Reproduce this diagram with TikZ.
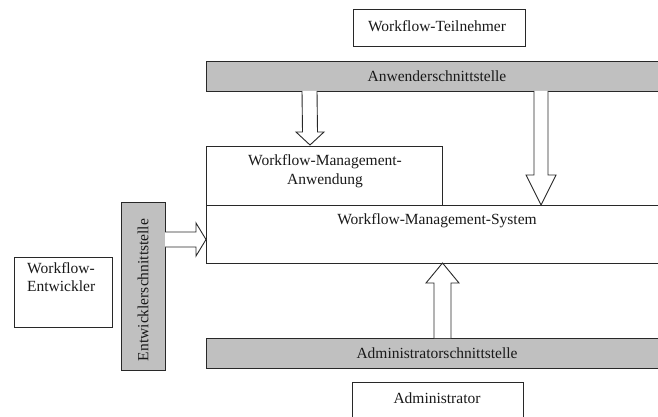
\documentclass[tikz,border=0pt]{standalone}
\usepackage{fontspec}
\setmainfont{Liberation Serif}
\usetikzlibrary{calc}
\definecolor{barfill}{RGB}{192,192,192}
\definecolor{edge}{RGB}{40,40,40}
\begin{document}
\begin{tikzpicture}[x=1pt,y=-1pt,
  every node/.style={font=\fontsize{15.5}{18.5}\selectfont},
  frame/.style={draw=edge,line width=1.1pt,inner sep=0pt,anchor=north west},
  bar/.style={frame,fill=barfill},
  label/.style={inner sep=0pt,text=black!90},
  blockarrow/.style={draw=edge,fill=white,line width=0.9pt,line join=miter}]
\useasboundingbox (0,0) rectangle (658,417);
\clip (0,0) rectangle (658,417);
\fill[white] (0,0) rectangle (658,417);

% participant and its interface bar
\node[frame,minimum width=172pt,minimum height=37pt] (wt) at (353,9) {};
\node[label] (wttext) at (437,26) {Workflow-Teilnehmer};
\node[bar,minimum width=460pt,minimum height=30pt] (anw) at (206,61) {};
\node[label] (anwtext) at (437,76) {Anwenderschnittstelle};

% application and management system
\node[frame,minimum width=456pt,minimum height=58pt] (wms) at (206,205) {};
\node[label] (wmstext) at (437,221) {Workflow-Management-System};
\node[frame,minimum width=236pt,minimum height=59pt] (wfa) at (206,146) {};
\node[label,align=center] (wfatext) at (325,171) {Workflow-Management-\\Anwendung};

% developer side
\node[bar,minimum width=44pt,minimum height=168pt] (ent) at (121,202) {};
\node[label,rotate=90] (enttext) at (143,290) {Entwicklerschnittstelle};
\node[frame,minimum width=98pt,minimum height=70pt] (wfe) at (14,257) {};
\node[label,align=left,anchor=north west] (wfetext) at (27,262) {Workflow-\\Entwickler};

% administrator side
\node[bar,minimum width=460pt,minimum height=30pt] (adm) at (206,338) {};
\node[label] (admtext) at (437,353) {Administratorschnittstelle};
\node[frame,minimum width=171pt,minimum height=45pt] (admin) at (352,382) {};
\node[label] (admintext) at (437,398) {Administrator};

% block arrows: base point on the source, tip on the target
\coordinate (a1s) at (309.5,91);  \coordinate (a1t) at (310,145);
\coordinate (a2s) at (541,91);    \coordinate (a2t) at (541,205);
\coordinate (a3s) at (165,239.5); \coordinate (a3t) at (206,239.5);
\coordinate (a4s) at (442.5,338); \coordinate (a4t) at (442.5,263);

\draw[blockarrow] ($(a1s)+(-7.5,0)$) -- ($(a1t)+(-7.5,-13)$) -- ($(a1t)+(-14,-13)$)
  -- (a1t) -- ($(a1t)+(14,-13)$) -- ($(a1t)+(7.5,-13)$) -- ($(a1s)+(7.5,0)$);
\draw[blockarrow] ($(a2s)+(-7,0)$) -- ($(a2t)+(-7,-30)$) -- ($(a2t)+(-15,-30)$)
  -- (a2t) -- ($(a2t)+(15,-30)$) -- ($(a2t)+(7,-30)$) -- ($(a2s)+(7,0)$);
\draw[blockarrow] ($(a3s)+(0,-7.5)$) -- ($(a3t)+(-10,-7.5)$) -- ($(a3t)+(-10,-16.5)$)
  -- (a3t) -- ($(a3t)+(-10,16.5)$) -- ($(a3t)+(-10,7.5)$) -- ($(a3s)+(0,7.5)$);
\draw[blockarrow] ($(a4s)+(-8.5,0)$) -- ($(a4t)+(-8.5,20)$) -- ($(a4t)+(-16.5,20)$)
  -- (a4t) -- ($(a4t)+(16.5,20)$) -- ($(a4t)+(8.5,20)$) -- ($(a4s)+(8.5,0)$);
\end{tikzpicture}
\end{document}
